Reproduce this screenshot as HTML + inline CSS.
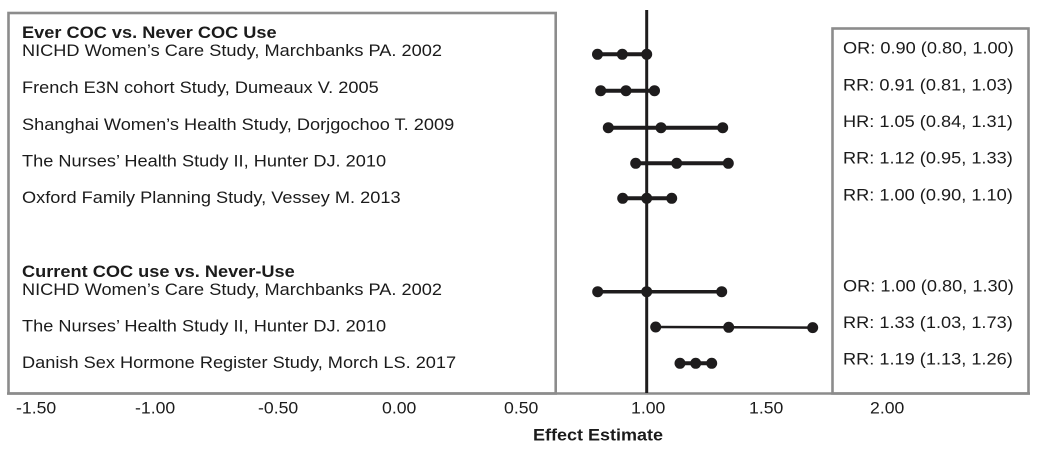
<!DOCTYPE html>
<html>
<head>
<meta charset="utf-8">
<style>
  html, body { margin: 0; padding: 0; background: #ffffff; }
  body { width: 1042px; height: 449px; overflow: hidden; }
  svg { display: block; }
  text { font-family: "Liberation Sans", Arial, sans-serif; fill: #1b1b1b; }
</style>
</head>
<body>
<svg width="1042" height="449" viewBox="0 0 1042 449" xmlns="http://www.w3.org/2000/svg">
  <rect x="0" y="0" width="1042" height="449" fill="#ffffff"/>

  <!-- Left label box -->
  <rect x="8.5" y="13" width="547.2" height="380.5" fill="none" stroke="#8c8c8c" stroke-width="2.6"/>
  <!-- Right value box -->
  <rect x="832.5" y="28.5" width="196" height="365" fill="none" stroke="#8c8c8c" stroke-width="2.6"/>
  <!-- Bottom baseline across -->
  <line x1="7" y1="393.5" x2="1030" y2="393.5" stroke="#8c8c8c" stroke-width="2.4"/>

  <!-- Reference line at 1.00 -->
  <line x1="646.7" y1="10" x2="646.7" y2="393" stroke="#1e1c1d" stroke-width="3"/>

  <!-- Left text: group 1 -->
  <text transform="translate(22,38) scale(1.07,1)" font-size="17" font-weight="bold">Ever COC vs. Never COC Use</text>
  <text transform="translate(22,56) scale(1.07,1)" font-size="17">NICHD Women’s Care Study, Marchbanks PA. 2002</text>
  <text transform="translate(22,93) scale(1.07,1)" font-size="17">French E3N cohort Study, Dumeaux V. 2005</text>
  <text transform="translate(22,130) scale(1.07,1)" font-size="17">Shanghai Women’s Health Study, Dorjgochoo T. 2009</text>
  <text transform="translate(22,166.5) scale(1.07,1)" font-size="17">The Nurses’ Health Study II, Hunter DJ. 2010</text>
  <text transform="translate(22,203) scale(1.07,1)" font-size="17">Oxford Family Planning Study, Vessey M. 2013</text>

  <!-- Left text: group 2 -->
  <text transform="translate(22,277) scale(1.07,1)" font-size="17" font-weight="bold">Current COC use vs. Never-Use</text>
  <text transform="translate(22,295) scale(1.07,1)" font-size="17">NICHD Women’s Care Study, Marchbanks PA. 2002</text>
  <text transform="translate(22,331.5) scale(1.07,1)" font-size="17">The Nurses’ Health Study II, Hunter DJ. 2010</text>
  <text transform="translate(22,368) scale(1.07,1)" font-size="17">Danish Sex Hormone Register Study, Morch LS. 2017</text>

  <!-- Right text -->
  <text transform="translate(843,53.5) scale(1.07,1)" font-size="17">OR: 0.90 (0.80, 1.00)</text>
  <text transform="translate(843,90.3) scale(1.07,1)" font-size="17">RR: 0.91 (0.81, 1.03)</text>
  <text transform="translate(843,127) scale(1.07,1)" font-size="17">HR: 1.05 (0.84, 1.31)</text>
  <text transform="translate(843,163.7) scale(1.07,1)" font-size="17">RR: 1.12 (0.95, 1.33)</text>
  <text transform="translate(843,200.3) scale(1.07,1)" font-size="17">RR: 1.00 (0.90, 1.10)</text>
  <text transform="translate(843,291.5) scale(1.07,1)" font-size="17">OR: 1.00 (0.80, 1.30)</text>
  <text transform="translate(843,328) scale(1.07,1)" font-size="17">RR: 1.33 (1.03, 1.73)</text>
  <text transform="translate(843,364.5) scale(1.07,1)" font-size="17">RR: 1.19 (1.13, 1.26)</text>

  <!-- Forest plot rows -->
  <g stroke="#1e1c1d" fill="#1e1c1d">
    <line x1="597.5" y1="54.3" x2="646.7" y2="54.3" stroke-width="4"/>
    <circle cx="597.5" cy="54.3" r="5"/><circle cx="622.3" cy="54.3" r="5"/><circle cx="646.7" cy="54.3" r="5"/>

    <line x1="600.7" y1="90.7" x2="654.5" y2="90.7" stroke-width="4"/>
    <circle cx="600.7" cy="90.7" r="5"/><circle cx="626" cy="90.7" r="5"/><circle cx="654.5" cy="90.7" r="5"/>

    <line x1="608.3" y1="127.7" x2="722.7" y2="127.7" stroke-width="4"/>
    <circle cx="608.3" cy="127.7" r="5"/><circle cx="661" cy="127.7" r="5"/><circle cx="722.7" cy="127.7" r="5"/>

    <line x1="635.7" y1="163.3" x2="728.3" y2="163.3" stroke-width="4"/>
    <circle cx="635.7" cy="163.3" r="5"/><circle cx="676.7" cy="163.3" r="5"/><circle cx="728.3" cy="163.3" r="5"/>

    <line x1="622.7" y1="198.3" x2="671.7" y2="198.3" stroke-width="4"/>
    <circle cx="622.7" cy="198.3" r="5"/><circle cx="646.7" cy="198.3" r="5"/><circle cx="671.7" cy="198.3" r="5"/>

    <line x1="597.7" y1="291.7" x2="721.7" y2="291.7" stroke-width="3.5"/>
    <circle cx="597.7" cy="291.7" r="5"/><circle cx="646.7" cy="291.7" r="5"/><circle cx="721.7" cy="291.7" r="5"/>

    <line x1="655.7" y1="327" x2="812.7" y2="327.6" stroke-width="2.5"/>
    <circle cx="655.7" cy="327" r="5"/><circle cx="728.7" cy="327.3" r="5"/><circle cx="812.7" cy="327.6" r="5"/>

    <line x1="680" y1="363.3" x2="711.7" y2="363.3" stroke-width="4"/>
    <circle cx="680" cy="363.3" r="5"/><circle cx="695.7" cy="363.3" r="5"/><circle cx="711.7" cy="363.3" r="5"/>
  </g>

  <!-- X axis tick labels -->
  <text transform="translate(16,413.3) scale(1.07,1)" font-size="16.5">-1.50</text>
  <text transform="translate(135,413.3) scale(1.07,1)" font-size="16.5">-1.00</text>
  <text transform="translate(258,413.3) scale(1.07,1)" font-size="16.5">-0.50</text>
  <text transform="translate(382,413.3) scale(1.07,1)" font-size="16.5">0.00</text>
  <text transform="translate(504,413.3) scale(1.07,1)" font-size="16.5">0.50</text>
  <text transform="translate(631,413.3) scale(1.07,1)" font-size="16.5">1.00</text>
  <text transform="translate(749,413.3) scale(1.07,1)" font-size="16.5">1.50</text>
  <text transform="translate(870,413.3) scale(1.07,1)" font-size="16.5">2.00</text>

  <!-- Axis title -->
  <text transform="translate(533,440.5) scale(1.06,1)" font-size="17" font-weight="bold">Effect Estimate</text>
</svg>
</body>
</html>
